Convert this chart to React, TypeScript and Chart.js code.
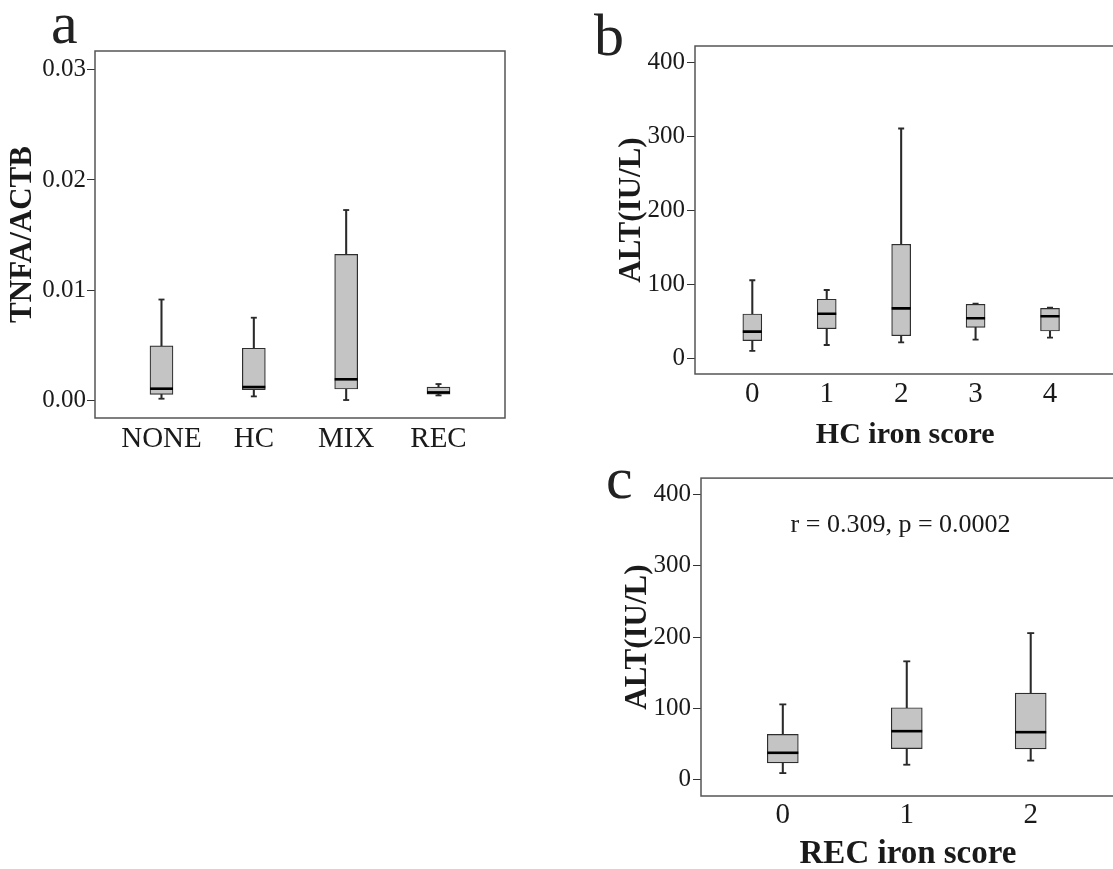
import React, { useEffect, useRef } from "react";
import { Chart, registerables } from "chart.js";

Chart.register(...registerables);

const SERIF = '"Liberation Serif", "Times New Roman", Times, serif';
const TEXT = "#1a1a1a";
const BOX_FILL = "#c4c4c4";
const BOX_EDGE = "#2e2e2e";
const WHISKER = "#2a2a2a";
const FRAME = "#555555";
const TICK = "#333333";

// ---------- Panel a: TNFA/ACTB by group ----------
const aCategories = ["NONE", "HC", "MIX", "REC"];
const aMin = [0.00015, 0.00036, 0.00003, 0.00045];
const aQ1 = [0.00055, 0.00097, 0.00103, 0.00057];
const aMedian = [0.00106, 0.00121, 0.00191, 0.00072];
const aQ3 = [0.00494, 0.00473, 0.01324, 0.00121];
const aMax = [0.00915, 0.0075, 0.01727, 0.00148];
const aYTicks = [0, 0.01, 0.02, 0.03];

// ---------- Panel b: ALT by HC iron score ----------
const bCategories = ["0", "1", "2", "3", "4"];
const bMin = [10.5, 18.5, 22, 25.7, 28.4];
const bQ1 = [24.5, 40.5, 31, 42.4, 37.4];
const bMedian = [36.5, 60.8, 68, 54.6, 57.3];
const bQ3 = [60.4, 80.3, 154.6, 73.5, 68];
const bMax = [106, 92.8, 311, 74.3, 69];
const bYTicks = [0, 100, 200, 300, 400];

// ---------- Panel c: ALT by REC iron score ----------
const cCategories = ["0", "1", "2"];
const cMin = [9.5, 21.2, 27];
const cQ1 = [23.9, 43.8, 43.3];
const cMedian = [37.9, 68.2, 66.8];
const cQ3 = [63.7, 101, 121.4];
const cMax = [105.7, 166, 205.5];
const cYTicks = [0, 100, 200, 300, 400];
const cStatText = "r = 0.309, p = 0.0002";

type Panel = {
  cats: string[];
  mins: number[];
  q1s: number[];
  meds: number[];
  q3s: number[];
  maxs: number[];
  yTicks: number[];
  yDecimals: number;
  xRange: [number, number];
  yRange: [number, number];
  boxW: number;
  capR: number;
  yTitle: string;
  xTitle: string;
  xTitleSize: number;
  box: { left: number; top: number; width: number; height: number };
  pad: { top: number; right: number; bottom: number; left: number };
  yAxisW: number;
  xAxisH: number;
  yTitlePad: number;
  xTickPad: number;
  yTickPad: number;
  stat?: { text: string; x: number; y: number };
};

const panelA: Panel = {
  cats: aCategories, mins: aMin, q1s: aQ1, meds: aMedian, q3s: aQ3, maxs: aMax,
  yTicks: aYTicks, yDecimals: 2,
  xRange: [-0.72, 3.72], yRange: [-0.0016, 0.0317],
  boxW: 23, capR: 3,
  yTitle: "TNFA/ACTB", xTitle: "", xTitleSize: 30,
  box: { left: 0, top: 0, width: 520, height: 470 },
  pad: { top: 51, right: 15, bottom: 12, left: 0 },
  yAxisW: 95, xAxisH: 40, yTitlePad: 4, xTickPad: 4, yTickPad: 1,
};

const panelB: Panel = {
  cats: bCategories, mins: bMin, q1s: bQ1, meds: bMedian, q3s: bQ3, maxs: bMax,
  yTicks: bYTicks, yDecimals: 0,
  xRange: [-0.77, 4.88], yRange: [-20.7, 422.5],
  boxW: 19, capR: 3,
  yTitle: "ALT(IU/L)", xTitle: "HC iron score", xTitleSize: 30,
  box: { left: 600, top: 0, width: 530, height: 460 },
  pad: { top: 46, right: 14.5, bottom: 6, left: 0 },
  yAxisW: 95, xAxisH: 80, yTitlePad: 13.4, xTickPad: 3, yTickPad: 2,
};

const panelC: Panel = {
  cats: cCategories, mins: cMin, q1s: cQ1, meds: cMedian, q3s: cQ3, maxs: cMax,
  yTicks: cYTicks, yDecimals: 0,
  xRange: [-0.66, 2.68], yRange: [-22.6, 422.6],
  boxW: 31, capR: 3.5,
  yTitle: "ALT(IU/L)", xTitle: "REC iron score", xTitleSize: 33,
  box: { left: 605, top: 460, width: 530, height: 420 },
  pad: { top: 7, right: 20, bottom: 5, left: 0 },
  yAxisW: 96, xAxisH: 79, yTitlePad: 14, xTickPad: 2.3, yTickPad: 2,
  stat: { text: cStatText, x: 0.95, y: 357 },
};

const framePlugin = {
  id: "frame",
  beforeDatasetsDraw(chart: any) {
    const { ctx, chartArea } = chart;
    const { left, top, right, bottom } = chartArea;
    ctx.save();
    ctx.strokeStyle = FRAME;
    ctx.lineWidth = 1.5;
    ctx.strokeRect(left, top, right - left, bottom - top);
    ctx.restore();
  },
};

const statPlugin = {
  id: "statText",
  afterDatasetsDraw(chart: any, _args: any, opts: any) {
    if (!opts || !opts.text) return;
    const { ctx, scales } = chart;
    ctx.save();
    ctx.font = `26px ${SERIF}`;
    ctx.fillStyle = TEXT;
    ctx.textAlign = "center";
    ctx.textBaseline = "middle";
    ctx.fillText(opts.text, scales.x.getPixelForValue(opts.x), scales.y.getPixelForValue(opts.y));
    ctx.restore();
  },
};

function makeConfig(p: Panel): any {
  const idx = p.cats.map((_, i) => i);
  const barBase = { type: "bar", grouped: false, borderSkipped: false };
  return {
    type: "bar",
    data: {
      datasets: [
        {
          ...barBase,
          label: "IQR",
          data: idx.map((i) => ({ x: i, y: [p.q1s[i], p.q3s[i]] })),
          backgroundColor: BOX_FILL,
          borderColor: BOX_EDGE,
          borderWidth: 1.2,
          barThickness: p.boxW,
          order: 3,
        },
        {
          ...barBase,
          label: "upper whisker",
          data: idx.map((i) => ({ x: i, y: [p.q3s[i], p.maxs[i]] })),
          backgroundColor: WHISKER,
          borderWidth: 0,
          barThickness: 1.4,
          order: 4,
        },
        {
          ...barBase,
          label: "lower whisker",
          data: idx.map((i) => ({ x: i, y: [p.mins[i], p.q1s[i]] })),
          backgroundColor: WHISKER,
          borderWidth: 0,
          barThickness: 1.4,
          order: 4,
        },
        {
          type: "scatter",
          label: "caps",
          data: [
            ...idx.map((i) => ({ x: i, y: p.maxs[i] })),
            ...idx.map((i) => ({ x: i, y: p.mins[i] })),
          ],
          pointStyle: "line",
          pointRadius: p.capR,
          pointBorderWidth: 1.8,
          pointBorderColor: WHISKER,
          order: 1,
        },
        {
          type: "scatter",
          label: "median",
          data: idx.map((i) => ({ x: i, y: p.meds[i] })),
          pointStyle: "line",
          pointRadius: p.boxW / 2,
          pointBorderWidth: 2.6,
          pointBorderColor: "#000",
          order: 0,
        },
      ],
    },
    options: {
      responsive: false,
      animation: false,
      events: [],
      layout: { padding: p.pad },
      plugins: {
        legend: { display: false },
        tooltip: { enabled: false },
        statText: p.stat ? { text: p.stat.text, x: p.stat.x, y: p.stat.y } : { text: "" },
      },
      scales: {
        x: {
          type: "linear",
          min: p.xRange[0],
          max: p.xRange[1],
          offset: false,
          grid: { display: false, drawTicks: false, offset: false },
          border: { display: false },
          ticks: {
            font: { family: SERIF, size: 29 },
            color: TEXT,
            padding: p.xTickPad,
            maxRotation: 0,
            autoSkip: false,
            callback: (_v: any, i: number) => p.cats[i] ?? "",
          },
          afterBuildTicks: (s: any) => {
            s.ticks = idx.map((i) => ({ value: i }));
          },
          afterFit: (s: any) => {
            s.height = p.xAxisH;
            s.paddingLeft = 0;
            s.paddingRight = 0;
          },
          title: p.xTitle
            ? {
                display: true,
                text: p.xTitle,
                font: { family: SERIF, size: p.xTitleSize, weight: "bold" },
                color: TEXT,
                padding: { top: 0, bottom: 1 },
              }
            : { display: false },
        },
        y: {
          type: "linear",
          min: p.yRange[0],
          max: p.yRange[1],
          grid: {
            display: true,
            drawOnChartArea: false,
            drawTicks: true,
            tickLength: 8,
            color: TICK,
            lineWidth: 1,
          },
          border: { display: false },
          ticks: {
            font: { family: SERIF, size: 25 },
            color: TEXT,
            padding: p.yTickPad,
            callback: (v: any) => Number(v).toFixed(p.yDecimals),
          },
          afterBuildTicks: (s: any) => {
            s.ticks = p.yTicks.map((v) => ({ value: v }));
          },
          afterFit: (s: any) => {
            s.width = p.yAxisW;
            s.paddingTop = 0;
            s.paddingBottom = 0;
          },
          title: {
            display: true,
            text: p.yTitle,
            font: { family: SERIF, size: 31, weight: "bold" },
            color: TEXT,
            padding: { top: p.yTitlePad, bottom: 0 },
          },
        },
      },
    },
    plugins: [framePlugin, statPlugin],
  };
}

function BoxPanel({ p }: { p: Panel }) {
  const ref = useRef<HTMLCanvasElement>(null);
  useEffect(() => {
    if (!ref.current) return;
    const chart = new Chart(ref.current, makeConfig(p));
    return () => chart.destroy();
  }, [p]);
  return (
    <canvas
      ref={ref}
      width={p.box.width}
      height={p.box.height}
      style={{
        position: "absolute",
        left: p.box.left,
        top: p.box.top,
        width: p.box.width,
        height: p.box.height,
      }}
    />
  );
}

const letterStyle = (left: number, top: number): React.CSSProperties => ({
  position: "absolute",
  left,
  top,
  fontFamily: SERIF,
  fontSize: 60,
  lineHeight: "60px",
  color: "#222",
});

export default function App() {
  return (
    <div
      style={{
        position: "fixed",
        left: 0,
        top: 0,
        width: 1113,
        height: 869,
        overflow: "hidden",
        background: "#fff",
      }}
    >
      <BoxPanel p={panelA} />
      <BoxPanel p={panelB} />
      <BoxPanel p={panelC} />
      <div style={letterStyle(51, -7)}>a</div>
      <div style={letterStyle(594, 5)}>b</div>
      <div style={letterStyle(606, 448)}>c</div>
    </div>
  );
}
